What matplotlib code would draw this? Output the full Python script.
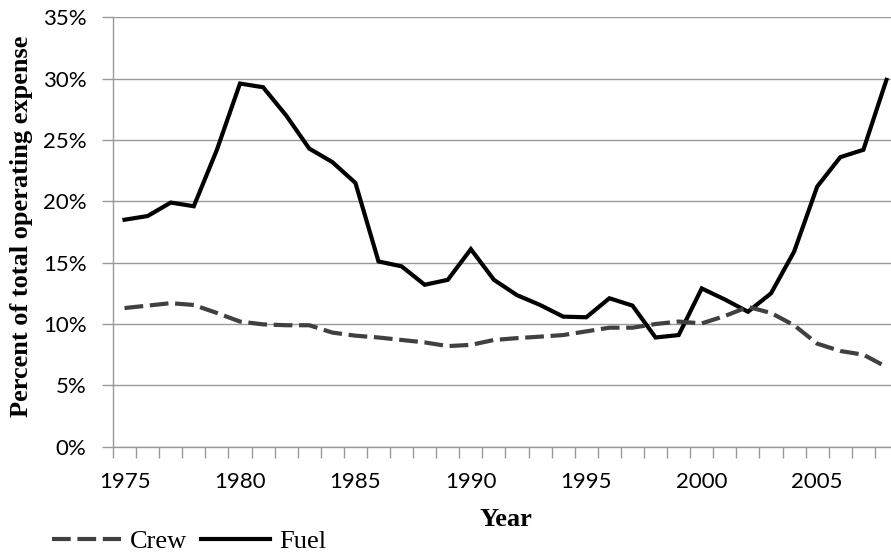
import matplotlib
matplotlib.use("Agg")
import matplotlib.pyplot as plt
import numpy as np
from matplotlib.lines import Line2D

# data (percent of total operating expense)
years = list(range(1975, 2009))
crew = [11.3, 11.5, 11.7, 11.55, 10.9, 10.2, 9.97, 9.9, 9.9, 9.3,
        9.05, 8.9, 8.7, 8.5, 8.2, 8.3, 8.7, 8.85, 8.97, 9.1,
        9.4, 9.7, 9.7, 10.0, 10.2, 10.05, 10.65, 11.4, 10.9, 9.9,
        8.4, 7.8, 7.5, 6.5]
fuel = [18.5, 18.8, 19.9, 19.6, 24.2, 29.6, 29.3, 27.0, 24.3, 23.2,
        21.5, 15.1, 14.7, 13.2, 13.6, 16.1, 13.6, 12.35, 11.55, 10.6,
        10.55, 12.1, 11.5, 8.9, 9.1, 12.9, 12.0, 11.0, 12.5, 15.9,
        21.2, 23.6, 24.2, 29.9]
year_labels = [1975, 1980, 1985, 1990, 1995, 2000, 2005]
y_ticks = [0, 5, 10, 15, 20, 25, 30, 35]

W, H = 891, 554
grid_col = "#999999"
serif = ["Liberation Serif", "DejaVu Serif"]
crew_dash = (4.5, 1.6)

fig = plt.figure(figsize=(W / 100, H / 100), dpi=100)
ax = fig.add_axes([113 / W, (H - 446.7) / H, 785 / W, 429.4 / H])

ax.plot(years, fuel, color="black", lw=3.0, solid_joinstyle="miter", label="Fuel")
ax.plot(years, crew, color="#404040", lw=3.0, dashes=crew_dash,
        dash_capstyle="butt", label="Crew")

ax.set_xlim(1974.5, 2008.5)
ax.set_ylim(0, 35)

# category boundaries carry the tick marks, labels sit at the centres
ax.set_xticks(np.arange(1974.5, 2009.0, 1.0))
ax.set_xticklabels([])
ax.set_xticks(year_labels, minor=True)
ax.set_xticklabels([str(y) for y in year_labels], minor=True)
ax.tick_params(axis="x", which="major", length=8, width=1, color=grid_col, direction="out")
ax.tick_params(axis="x", which="minor", length=0, pad=18, labelsize=16)

ax.set_yticks(y_ticks)
ax.set_yticklabels([f"{v}%" for v in y_ticks])
ax.tick_params(axis="y", length=8, width=1, color=grid_col, direction="out",
               pad=11, labelsize=16)
for lab in ax.get_xticklabels(minor=True) + ax.get_yticklabels():
    lab.set_family(["Lato", "DejaVu Sans"])

ax.grid(axis="y", color=grid_col, lw=1.0)
ax.set_axisbelow(True)
for side in ["top", "right"]:
    ax.spines[side].set_visible(False)
for side in ["left", "bottom"]:
    ax.spines[side].set_color(grid_col)
    ax.spines[side].set_linewidth(1.0)

fig.text(22 / W, 1 - 226.5 / H, "Percent of total operating expense", rotation=90,
         ha="center", va="center", family=serif, weight="bold", fontsize=19)
fig.text(506 / W, 1 - 520 / H, "Year", ha="center", va="center",
         family=serif, weight="bold", fontsize=19)

handles = [Line2D([], [], color="#404040", lw=3.0, dashes=crew_dash, dash_capstyle="butt"),
           Line2D([], [], color="black", lw=3.0)]
fig.legend(handles, ["Crew", "Fuel"], ncol=2, frameon=False,
           loc="center left", bbox_to_anchor=(52 / W, 1 - 541 / H),
           prop={"family": serif, "size": 19}, handlelength=2.6,
           handletextpad=0.35, columnspacing=0.55, borderpad=0, borderaxespad=0)

fig.savefig("out.png", dpi=100)
